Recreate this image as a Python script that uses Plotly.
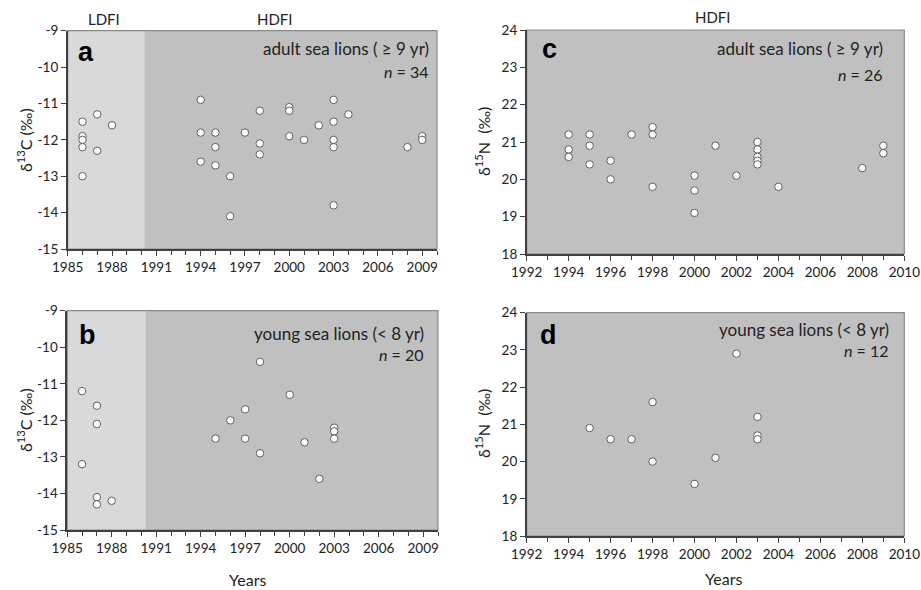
import plotly.graph_objects as go

# ---- data ----
# panel a: adult d13C (years 1985-2009)
a_years = [1986, 1986, 1986, 1986, 1986, 1987, 1987, 1988,
           1994, 1994, 1994, 1995, 1995, 1995, 1996, 1996, 1997,
           1998, 1998, 1998, 2000, 2000, 2000, 2001, 2002,
           2003, 2003, 2003, 2003, 2003, 2004, 2008, 2009, 2009]
a_d13c = [-11.5, -11.9, -12.0, -12.2, -13.0, -11.3, -12.3, -11.6,
          -10.9, -11.8, -12.6, -11.8, -12.2, -12.7, -13.0, -14.1, -11.8,
          -11.2, -12.1, -12.4, -11.1, -11.2, -11.9, -12.0, -11.6,
          -10.9, -11.5, -12.0, -12.2, -13.8, -11.3, -12.2, -11.9, -12.0]

# panel b: young d13C
b_years = [1986, 1986, 1987, 1987, 1987, 1987, 1988,
           1995, 1996, 1997, 1997, 1998, 1998, 2000, 2001, 2002,
           2003, 2003, 2003]
b_d13c = [-11.2, -13.2, -11.6, -12.1, -14.1, -14.3, -14.2,
          -12.5, -12.0, -11.7, -12.5, -10.4, -12.9, -11.3, -12.6, -13.6,
          -12.2, -12.3, -12.5]

# panel c: adult d15N
c_years = [1994, 1994, 1994, 1995, 1995, 1995, 1996, 1996, 1997,
           1998, 1998, 1998, 2000, 2000, 2000, 2001, 2002,
           2003, 2003, 2003, 2003, 2003, 2004, 2008, 2009, 2009]
c_d15n = [21.2, 20.8, 20.6, 21.2, 20.9, 20.4, 20.5, 20.0, 21.2,
          21.4, 21.2, 19.8, 20.1, 19.7, 19.1, 20.9, 20.1,
          21.0, 20.8, 20.6, 20.5, 20.4, 19.8, 20.3, 20.9, 20.7]

# panel d: young d15N
d_years = [1995, 1996, 1997, 1998, 1998, 2000, 2001, 2002, 2003, 2003, 2003]
d_d15n = [20.9, 20.6, 20.6, 21.6, 20.0, 19.4, 20.1, 22.9, 21.2, 20.7, 20.6]

# tick labels
c13_ticks = [-15, -14, -13, -12, -11, -10, -9]
c13_ticklabels = ["-15", "-14", "-13", "-12", "-11", "-10", "-9"]

LDFI_END = 1990.2
panel_letters = ["a", "b", "c", "d"]
panel_texts = ["adult sea lions ( \u2265 9 yr)", "young sea lions (< 8 yr)",
               "adult sea lions ( \u2265 9 yr)", "young sea lions (< 8 yr)"]
panel_n = [34, 20, 26, 12]

W, H = 921, 590
FONT = "Lato"
TXT = "#222222"


def px(x):
    return x / W


def py(y):
    return 1 - y / H


fig = go.Figure()

# domains (pixel based)
doms = {
    1: ((67.7, 437), (30.7, 249)),     # a
    2: ((67.2, 438), (310.7, 530)),    # b
    3: ((526.7, 904.3), (30, 254)),    # c
    4: ((526.7, 904.3), (312.7, 536)),  # d
}

series = [(a_years, a_d13c), (b_years, b_d13c), (c_years, c_d15n), (d_years, d_d15n)]
for i, (xs, ys) in enumerate(series, start=1):
    sfx = "" if i == 1 else str(i)
    fig.add_trace(go.Scatter(
        x=xs, y=ys, mode="markers", xaxis="x" + sfx, yaxis="y" + sfx,
        marker=dict(size=7.5, color="white", line=dict(color="#606060", width=1)),
        showlegend=False, hoverinfo="x+y"))

axis_font = dict(family=FONT, size=13.5, color=TXT)
layout = dict(
    template="none",
    width=W, height=H, margin=dict(l=0, r=0, t=0, b=0),
    paper_bgcolor="white", plot_bgcolor="#c0c0c0",
    font=dict(family=FONT, color=TXT),
)
for i in range(1, 5):
    sfx = "" if i == 1 else str(i)
    (x0, x1), (y0, y1) = doms[i]
    if i <= 2:
        xa = dict(range=[1985, 2010], tick0=1985, dtick=3,
                  minor=dict(dtick=1, ticks="outside", ticklen=4, tickcolor="#404040",
                             showgrid=False))
        ya = dict(range=[-15, -9], tickmode="array", tickvals=c13_ticks,
                  ticktext=c13_ticklabels)
    else:
        xa = dict(range=[1992, 2010], tick0=1992, dtick=2,
                  minor=dict(dtick=1, ticks="outside", ticklen=4, tickcolor="#404040",
                             showgrid=False))
        ya = dict(range=[18, 24], dtick=1, tick0=18)
    xa.update(domain=[px(x0), px(x1)], anchor="y" + sfx, showgrid=False, zeroline=False,
              automargin=False,
              showline=True, linecolor="#404040", linewidth=1.5, ticks="outside",
              ticklen=5, tickcolor="#404040", tickfont=axis_font)
    ya.update(domain=[py(y1), py(y0)], anchor="x" + sfx, showgrid=False, zeroline=False,
              automargin=False,
              showline=True, linecolor="#404040", linewidth=1.5, ticks="outside",
              ticklen=5, tickcolor="#404040", tickfont=axis_font)
    layout["xaxis" + sfx] = xa
    layout["yaxis" + sfx] = ya
fig.update_layout(**layout)

# background regions and frames
for i in range(1, 5):
    sfx = "" if i == 1 else str(i)
    if i <= 2:
        fig.add_shape(type="rect", xref="x" + sfx, yref="y" + sfx + " domain",
                      x0=1985, x1=LDFI_END if i == 1 else LDFI_END + 0.1, y0=0, y1=1,
                      fillcolor="#d9d9d9", line_width=0, layer="below")
    fig.add_shape(type="rect", xref="x" + sfx + " domain", yref="y" + sfx + " domain",
                  x0=0, x1=1, y0=0, y1=1, line=dict(color="#8a8a8a", width=1.2),
                  fillcolor="rgba(0,0,0,0)", layer="below")


def note(text, x, y, size, xanchor="center", family=FONT, color=TXT, angle=0):
    fig.add_annotation(text=text, x=px(x), y=py(y), xref="paper", yref="paper",
                       showarrow=False, xanchor=xanchor, yanchor="middle",
                       textangle=angle, font=dict(family=family, size=size, color=color))


# panel annotations
letter_pos = [(86, 52), (87, 335), (549, 49), (548, 335)]
text_pos = [(431, 48, 71), (426, 333, 354), (885, 48, 74), (891, 329, 351)]
for k in range(4):
    lx, ly = letter_pos[k]
    note("<b>%s</b>" % panel_letters[k], lx, ly, 27, family="Liberation Sans", color="black")
    tx, ty, ny = text_pos[k]
    note(panel_texts[k], tx, ty, 17, xanchor="right")
    note("<i>n</i> = %d" % panel_n[k], tx, ny, 16, xanchor="right")

# region labels
for txt, x, y in [("LDFI", 104, 19), ("HDFI", 275, 19), ("HDFI", 713, 17)]:
    note(txt, x, y, 15)

# y axis titles
for txt, x, y in [("\u03b4<sup>13</sup>C (\u2030)", 24, 140), ("\u03b4<sup>13</sup>C (\u2030)", 24, 420),
                  ("\u03b4<sup>15</sup>N  (\u2030)", 482, 142), ("\u03b4<sup>15</sup>N  (\u2030)", 482, 424)]:
    note(txt, x, y, 16, angle=-90)

# x axis titles
for x, y in [(247, 579), (723, 578)]:
    note("Years", x, y, 16)

fig.write_html("out.html", config={"displayModeBar": False},
               post_script="document.body.style.margin='0px';document.body.style.overflow='hidden';")
